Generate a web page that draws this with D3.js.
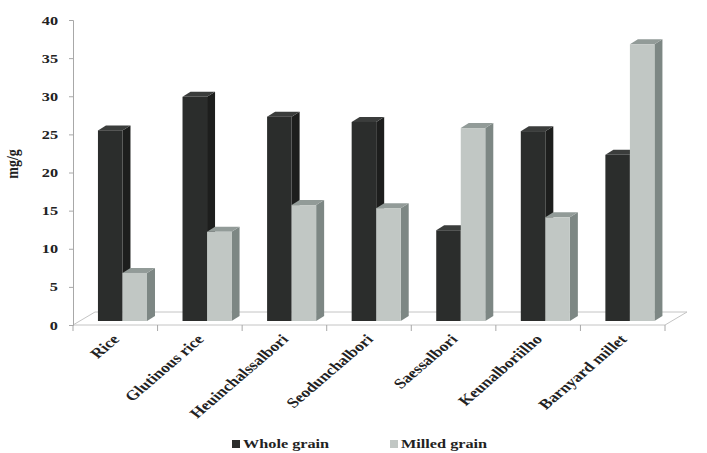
<!DOCTYPE html>
<html>
<head>
<meta charset="utf-8">
<script src="https://cdn.jsdelivr.net/npm/d3@7"></script>
<style>
  body { margin: 0; background: #fff; }
  text { font-family: "Liberation Serif", "Times New Roman", serif; font-weight: bold; fill: #222; }
</style>
</head>
<body>
<svg id="chart"></svg>
<script>
const categories = ["Rice", "Glutinous rice", "Heuinchalssalbori", "Seodunchalbori", "Saessalbori", "Keunalboriilho", "Barnyard millet"];
const seriesNames = ["Whole grain", "Milled grain"];
const wholeGrain = [25.0, 29.4, 26.8, 26.1, 11.9, 24.9, 21.8];
const milledGrain = [6.3, 11.7, 15.2, 14.8, 25.3, 13.6, 36.3];
const yTicks = [0, 5, 10, 15, 20, 25, 30, 35, 40];

const W = 707, H = 453;
const plotLeft = 73, plotRight = 665, plotTop = 20, plotBottom = 325;
const sx = 1.25; // horizontal stretch of the text in the source image

const faces = [
  { front: "#2b2d2c", side: "#1d1e1d", top: "#3b3d3c" },
  { front: "#c1c7c4", side: "#7d8784", top: "#929b98" }
];

const svg = d3.select("#chart").attr("width", W).attr("height", H);
svg.append("rect").attr("width", W).attr("height", H).attr("fill", "#fff");

const x = d3.scaleBand().domain(categories).range([plotLeft, plotRight]);
const xs = d3.scaleBand().domain(seriesNames).range([x.bandwidth() * 0.295, x.bandwidth() * 0.875]);
const y = d3.scaleLinear().domain([0, 40]).range([plotBottom, plotTop]);

// floor
const fdx = 22, fdy = 13;
svg.append("path")
  .attr("d", `M${plotLeft},${plotBottom}L${plotLeft + fdx},${plotBottom - fdy}L${plotRight + fdx},${plotBottom - fdy}L${plotRight},${plotBottom}Z`)
  .attr("fill", "none").attr("stroke", "#c4c4c4");

// y axis
const yAxis = svg.append("g").attr("transform", `translate(${plotLeft},0)`)
  .call(d3.axisLeft(y).tickValues(yTicks).tickSize(4).tickPadding(0).tickFormat(d3.format("d")));
yAxis.select(".domain").attr("stroke", "#a8a8a8");
yAxis.selectAll(".tick line").attr("stroke", "#a8a8a8");
yAxis.selectAll(".tick text")
  .attr("x", null).attr("dy", null)
  .attr("transform", `translate(-15,4) scale(${sx},1)`)
  .attr("text-anchor", "end")
  .style("font-size", "13px").attr("fill", "#222");

// x axis ticks and labels
const xg = svg.append("g");
xg.selectAll("line.tk")
  .data(d3.range(categories.length + 1))
  .join("line")
  .attr("x1", i => plotLeft + i * x.bandwidth()).attr("x2", i => plotLeft + i * x.bandwidth())
  .attr("y1", plotBottom).attr("y2", plotBottom + 6)
  .attr("stroke", "#a8a8a8");
xg.selectAll("text")
  .data(categories)
  .join("text")
  .attr("transform", d => `translate(${x(d) + x.bandwidth() / 2 + 5},${plotBottom + 15}) scale(${sx},1) rotate(-47)`)
  .attr("text-anchor", "end")
  .style("font-size", "14px")
  .text(d => d);

// bars
const depthX = 8, depthY = 5;
const bars = svg.append("g").attr("transform", "translate(0,-4)");
categories.forEach((c, i) => {
  [wholeGrain[i], milledGrain[i]].forEach((v, s) => {
    const x0 = x(c) + xs(seriesNames[s]);
    const w = xs.bandwidth();
    const y0 = y(v), y1 = y(0);
    const g = bars.append("g");
    g.append("path")
      .attr("d", `M${x0 + w},${y0}L${x0 + w + depthX},${y0 - depthY}L${x0 + w + depthX},${y1 - depthY}L${x0 + w},${y1}Z`)
      .attr("fill", faces[s].side);
    g.append("path")
      .attr("d", `M${x0},${y0}L${x0 + depthX},${y0 - depthY}L${x0 + w + depthX},${y0 - depthY}L${x0 + w},${y0}Z`)
      .attr("fill", faces[s].top);
    g.append("rect")
      .attr("x", x0).attr("y", y0).attr("width", w).attr("height", y1 - y0)
      .attr("fill", faces[s].front);
  });
});

// y label
svg.append("text")
  .attr("transform", `translate(18,164) scale(${sx},1) rotate(-90)`)
  .attr("text-anchor", "middle")
  .style("font-size", "14px")
  .text("mg/g");

// legend
const legendX = [232, 390];
seriesNames.forEach((n, s) => {
  svg.append("rect").attr("x", legendX[s]).attr("y", 440).attr("width", 8).attr("height", 8)
    .attr("fill", faces[s].front);
  svg.append("text")
    .attr("transform", `translate(${legendX[s] + 11},448) scale(${sx},1)`)
    .style("font-size", "13px")
    .text(n);
});
</script>
</body>
</html>
